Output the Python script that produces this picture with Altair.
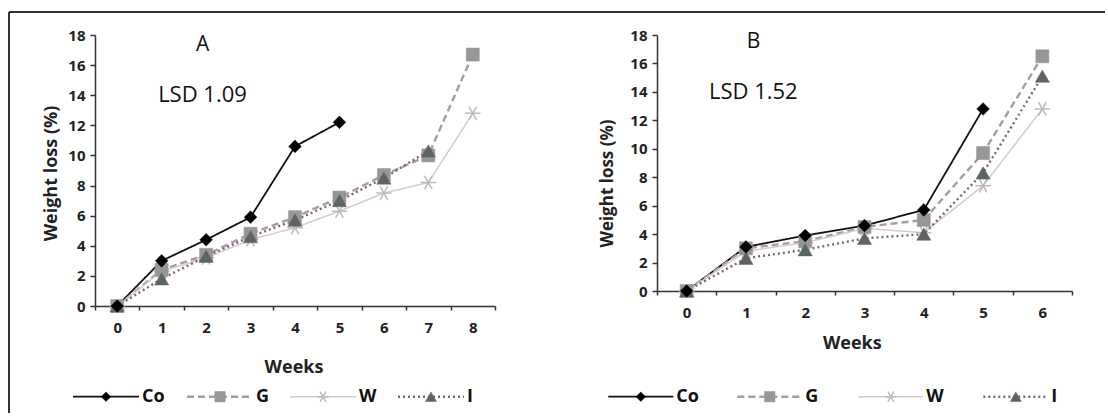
import altair as alt
import pandas as pd

# ---------------- data ----------------
series = ["Co", "G", "W", "I"]
weeks_a = list(range(9))
weeks_b = list(range(7))
y_ticks = list(range(0, 19, 2))

a_co = [0.0, 3.0, 4.4, 5.9, 10.6, 12.2]
a_g = [0.0, 2.4, 3.4, 4.8, 5.9, 7.2, 8.7, 10.0, 16.7]
a_w = [0.0, 2.3, 3.2, 4.4, 5.2, 6.3, 7.5, 8.2, 12.8]
a_i = [0.0, 1.8, 3.3, 4.6, 5.7, 7.0, 8.5, 10.3]

b_co = [0.0, 3.1, 3.9, 4.6, 5.7, 12.8]
b_g = [0.0, 3.0, 3.5, 4.5, 5.0, 9.7, 16.5]
b_w = [0.0, 2.8, 3.4, 4.4, 4.1, 7.4, 12.8]
b_i = [0.0, 2.3, 2.9, 3.7, 4.0, 8.3, 15.1]

# ---------------- styles ----------------
FONT = "Open Sans"
ASTERISK = "M-1,0L1,0M-0.5,-0.866L0.5,0.866M-0.5,0.866L0.5,-0.866"
STYLE = {
    "Co": dict(line="#111111", dash=[1, 0], lw=1.8, shape="diamond", fill="#000000",
               stroke="#000000", size=160, lsize=90, sw=0.5),
    "G": dict(line="#a99c9c", dash=[7, 4], lw=2.4, shape="square", fill="#979797",
              stroke="#979797", size=170, lsize=110, sw=0.5),
    "W": dict(line="#d4cccc", dash=[1, 0], lw=1.5, shape=ASTERISK, fill=None,
              stroke="#c2baba", size=240, lsize=140, sw=1.5),
    "I": dict(line="#7e6868", dash=[2, 3], lw=2.4, shape="triangle-up", fill="#5c6464",
              stroke="#5c6464", size=200, lsize=120, sw=0.5),
}
POINT_ORDER = ["W", "G", "I", "Co"]


def point_mark(chart, s, size):
    st = STYLE[s]
    if st["fill"] is None:
        return chart.mark_point(shape=st["shape"], filled=False, stroke=st["stroke"],
                                strokeWidth=st["sw"], size=size, opacity=1)
    return chart.mark_point(shape=st["shape"], filled=True, fill=st["fill"],
                            stroke=st["stroke"], strokeWidth=st["sw"], size=size, opacity=1)


def panel(weeks, values, width, height, letter, lsd, letter_pos, lsd_pos,
          xtitle_pos, ytitle_pos, ytitle_size, legend_starts, legend_len, legend_y):
    rows = []
    for s, vals in zip(series, values):
        for w, v in zip(weeks, vals):
            rows.append({"week": w, "loss": v, "series": s})
    df = pd.DataFrame(rows)
    base = alt.Chart(df)

    x = alt.X(
        "week:O", bandPosition=0.5,
        scale=alt.Scale(type="band", domain=weeks, paddingInner=0, paddingOuter=0),
        axis=alt.Axis(title="Weeks", tickBand="extent", tickSize=4, labelPadding=17,
                      labelBaseline="middle", labelAngle=0,
                      titleX=xtitle_pos[0], titleY=xtitle_pos[1], titleAlign="center",
                      titleBaseline="middle", titleFontSize=18, titleFontWeight="bold"),
    )
    y = alt.Y(
        "loss:Q", scale=alt.Scale(domain=[0, 18], nice=False, zero=True),
        axis=alt.Axis(title="Weight loss (%)", values=y_ticks, tickSize=5, labelPadding=5,
                      titleAngle=270, titleX=ytitle_pos[0], titleY=ytitle_pos[1],
                      titleAlign="center", titleBaseline="middle",
                      titleFontSize=ytitle_size, titleFontWeight="bold"),
    )

    layers = []
    for s in series:
        st = STYLE[s]
        layers.append(
            base.transform_filter(alt.datum.series == s)
            .mark_line(color=st["line"], strokeDash=st["dash"], strokeWidth=st["lw"])
            .encode(x=x, y=y)
        )
    for s in POINT_ORDER:
        layers.append(point_mark(base.transform_filter(alt.datum.series == s), s,
                                 STYLE[s]["size"]).encode(x=x, y=y))

    lab = alt.Chart(pd.DataFrame({"t": [letter], "l": [lsd]}))
    layers.append(lab.mark_text(font=FONT, fontSize=21, color="#111", align="center",
                                baseline="middle")
                  .encode(text="t:N", x=alt.value(letter_pos[0]), y=alt.value(letter_pos[1])))
    layers.append(lab.mark_text(font=FONT, fontSize=22, color="#111", align="center",
                                baseline="middle")
                  .encode(text="l:N", x=alt.value(lsd_pos[0]), y=alt.value(lsd_pos[1])))

    # legend
    for s, x0 in zip(series, legend_starts):
        st = STYLE[s]
        ld = alt.Chart(pd.DataFrame({"series": [s]}))
        layers.append(ld.mark_rule(color=st["line"], strokeDash=st["dash"], strokeWidth=st["lw"])
                      .encode(x=alt.value(x0), x2=alt.value(x0 + legend_len),
                              y=alt.value(legend_y)))
        layers.append(point_mark(ld, s, st["lsize"])
                      .encode(x=alt.value(x0 + legend_len / 2), y=alt.value(legend_y)))
        layers.append(ld.mark_text(font=FONT, fontSize=18, fontWeight="bold", color="#111",
                                   align="left", baseline="middle")
                      .encode(text="series:N", x=alt.value(x0 + legend_len + 3),
                              y=alt.value(legend_y)))
    return layers


layers_a = panel(weeks_a, [a_co, a_g, a_w, a_i], 400, 271, "A", "LSD 1.09",
                 (107.7, 10), (107.5, 60), (198.5, 61), (-44, 138), 18,
                 [-22, 92, 195, 303], 66, 361.7)

# outer frame (top and left edge of the figure box)
frame = alt.Chart(pd.DataFrame({"f": [0]}))
layers_a.append(frame.mark_rule(color="#333333", strokeWidth=2)
                .encode(x=alt.value(-86), x2=alt.value(1010), y=alt.value(-23)))
layers_a.append(frame.mark_rule(color="#333333", strokeWidth=2)
                .encode(x=alt.value(-86), y=alt.value(-23), y2=alt.value(378)))

layers_b = panel(weeks_b, [b_co, b_g, b_w, b_i], 415, 256, "B", "LSD 1.52",
                 (96.6, 6.7), (96.3, 56.7), (194.8, 52.6), (-49.7, 148), 17,
                 [-48.7, 80.3, 201.3, 326.3], 65, 361.7)

pa = alt.layer(*layers_a).properties(width=400, height=271)
pb = alt.layer(*layers_b).properties(width=415, height=256)

chart = (
    alt.hconcat(pa, pb, spacing=162, bounds="flush")
    .properties(padding={"left": 8, "top": 11, "right": 0, "bottom": 0}, background="white")
    .configure_view(strokeWidth=0)
    .configure_axis(domainColor="#333333", domainWidth=1.5, tickColor="#333333",
                    tickWidth=1.5, labelFont=FONT, labelFontSize=15, labelFontWeight="bold",
                    labelColor="#222222", titleFont=FONT, titleColor="#222222", grid=False)
)

chart.save("out.html", embed_options={"renderer": "svg", "actions": False})
